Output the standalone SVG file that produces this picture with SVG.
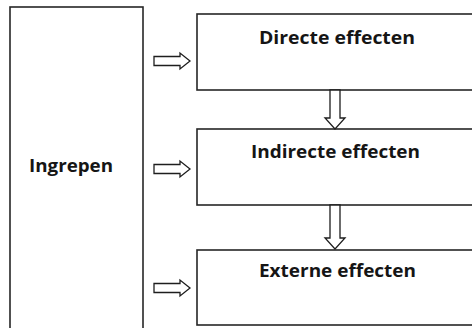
<svg xmlns="http://www.w3.org/2000/svg" width="472" height="328" viewBox="0 0 472 328">
  <style>
    .box { fill: #ffffff; stroke: #262626; stroke-width: 1.6; }
    .arrow { fill: #ffffff; stroke: #1e1e1e; stroke-width: 1.3; stroke-linejoin: miter; }
    .label { font-family: "Open Sans", "Liberation Sans", sans-serif; font-weight: bold; font-size: 18px; fill: #151515; }
  </style>
  <defs>
    <!-- hollow block arrow pointing right, tip at (0,0) -->
    <path id="arrowRight" d="M -36 -4.5 L -10 -4.5 L -10 -8 L 0 0 L -10 8 L -10 4.5 L -36 4.5 Z"/>
  </defs>

  <rect width="472" height="328" fill="#ffffff"/>

  <g id="ingrepen">
    <rect class="box" x="10" y="7" width="133" height="330"/>
    <text class="label" x="29" y="172" textLength="84" lengthAdjust="spacingAndGlyphs">Ingrepen</text>
  </g>

  <g id="directe-effecten">
    <rect class="box" x="197" y="14" width="300" height="76"/>
    <text class="label" x="259" y="44" textLength="156" lengthAdjust="spacingAndGlyphs">Directe effecten</text>
  </g>

  <g id="indirecte-effecten">
    <rect class="box" x="197" y="129" width="300" height="76"/>
    <text class="label" x="251" y="158" textLength="169" lengthAdjust="spacingAndGlyphs">Indirecte effecten</text>
  </g>

  <g id="externe-effecten">
    <rect class="box" x="197" y="250" width="300" height="75"/>
    <text class="label" x="259" y="277" textLength="157" lengthAdjust="spacingAndGlyphs">Externe effecten</text>
  </g>

  <g id="connectors">
    <use href="#arrowRight" class="arrow" x="190" y="61"/>
    <use href="#arrowRight" class="arrow" x="190" y="169"/>
    <use href="#arrowRight" class="arrow" x="190" y="288"/>
    <!-- downward block arrows between the effect boxes -->
    <path class="arrow" d="M 330 90 L 340 90 L 340 118 L 345 118 L 335 129 L 325 118 L 330 118 Z"/>
    <path class="arrow" d="M 330 205 L 340 205 L 340 238 L 345 238 L 335 249 L 325 238 L 330 238 Z"/>
  </g>
</svg>
